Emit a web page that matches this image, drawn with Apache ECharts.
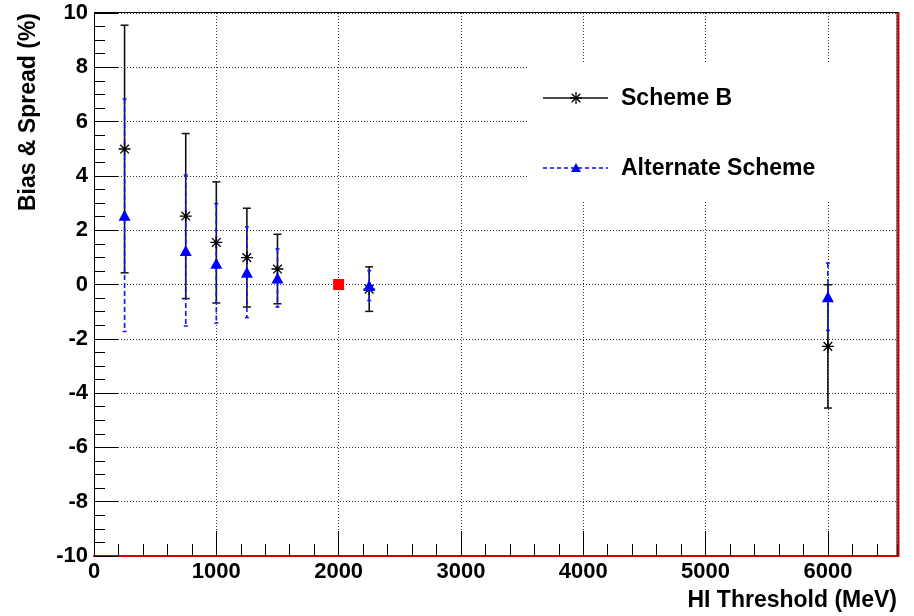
<!DOCTYPE html>
<html>
<head>
<meta charset="utf-8">
<script src="https://cdn.jsdelivr.net/npm/echarts@6/dist/echarts.min.js"></script>
<style>
html, body { margin: 0; padding: 0; background: #fff; }
#chart { width: 914px; height: 616px; }
</style>
</head>
<body>
<div id="chart"></div>
<script>
// HI threshold scan: bias (marker) and spread (error bar half-width), in percent
const thresholds = [250, 750, 1000, 1250, 1500, 2250, 6000];
const schemeB = [4.99, 2.52, 1.55, 0.99, 0.57, -0.17, -2.28];
const schemeBSpread = [4.56, 3.04, 2.23, 1.82, 1.28, 0.82, 2.27];
const altScheme = [2.55, 1.25, 0.78, 0.45, 0.24, -0.04, -0.45];
const altSpread = [4.28, 2.78, 2.2, 1.67, 1.07, 0.55, 1.24];
const referencePoint = [2000, 0];

const xTicks = [0, 1000, 2000, 3000, 4000, 5000, 6000];
const yTicks = [-10, -8, -6, -4, -2, 0, 2, 4, 6, 8, 10];

const FONT = '"Liberation Sans", Arial, Helvetica, sans-serif';
const STAR = 'path://M0,-1L0,1M-1,0L1,0M-0.72,-0.72L0.72,0.72M-0.72,0.72L0.72,-0.72';

function errorBars(color, dash, capHalf) {
  return function (params, api) {
    const x = api.value(0), y = api.value(1), e = api.value(2);
    const hi = api.coord([x, y + e]);
    const lo = api.coord([x, y - e]);
    const capStyle = { stroke: color, lineWidth: 1.5 };
    const barStyle = { stroke: color, lineWidth: 1.6 };
    if (dash) barStyle.lineDash = dash;
    return {
      type: 'group',
      children: [
        { type: 'line', shape: { x1: hi[0], y1: hi[1], x2: lo[0], y2: lo[1] }, style: barStyle },
        { type: 'line', shape: { x1: hi[0] - capHalf, y1: hi[1], x2: hi[0] + capHalf, y2: hi[1] }, style: capStyle },
        { type: 'line', shape: { x1: lo[0] - capHalf, y1: lo[1], x2: lo[0] + capHalf, y2: lo[1] }, style: capStyle }
      ]
    };
  };
}

function starLines(cx, cy, r) {
  const d = r * 0.72;
  const segs = [[0, -r, 0, r], [-r, 0, r, 0], [-d, -d, d, d], [-d, d, d, -d]];
  return segs.map(s => ({
    type: 'line', z: 9,
    shape: { x1: cx + s[0], y1: cy + s[1], x2: cx + s[2], y2: cy + s[3] },
    style: { stroke: '#000', lineWidth: 1.3 }
  }));
}

const chart = echarts.init(document.getElementById('chart'), null, { renderer: 'canvas' });

const gridLine = { show: true, lineStyle: { color: '#333', width: 1, type: [1, 2] } };

chart.setOption({
  animation: false,
  backgroundColor: '#fff',
  grid: { left: 94, right: 17, top: 13, bottom: 60, show: false },
  xAxis: [
    {
      type: 'value', position: 'bottom', min: 0, max: 6565, interval: 200,
      axisLine: { show: false, onZero: false },
      axisTick: { show: true, inside: true, length: 12, lineStyle: { color: '#000', width: 1 } },
      axisLabel: { show: false },
      splitLine: { show: false }
    },
    {
      type: 'value', position: 'bottom', min: 0, max: 6565, interval: 1000,
      axisLine: { show: true, onZero: false, lineStyle: { color: '#d40000', width: 2 } },
      axisTick: { show: true, inside: true, length: 25, lineStyle: { color: '#000', width: 1 } },
      axisLabel: {
        show: true, margin: 5, color: '#000', fontFamily: FONT, fontWeight: 'bold', fontSize: 22,
        showMaxLabel: false,
        formatter: v => (xTicks.indexOf(v) >= 0 ? String(v) : '')
      },
      splitLine: gridLine
    }
  ],
  yAxis: {
    type: 'value', min: -10, max: 10, interval: 2,
    axisLine: { show: true, onZero: false, lineStyle: { color: '#000', width: 1 } },
    axisTick: { show: true, inside: true, length: 24, lineStyle: { color: '#000', width: 1 } },
    minorTick: { show: true, splitNumber: 4, length: 11, lineStyle: { color: '#000', width: 1 } },
    axisLabel: {
      show: true, margin: 6, color: '#000', fontFamily: FONT, fontWeight: 'bold', fontSize: 22,
      formatter: v => (yTicks.indexOf(v) >= 0 ? String(v) : '')
    },
    splitLine: gridLine
  },
  series: [
    {
      type: 'custom', name: 'Scheme B bars', z: 3,
      renderItem: errorBars('#111', null, 4),
      encode: { x: 0, y: 1 },
      data: thresholds.map((t, i) => [t, schemeB[i], schemeBSpread[i]])
    },
    {
      type: 'custom', name: 'Alternate bars', z: 4,
      renderItem: errorBars('#1010ff', [5, 3], 2),
      encode: { x: 0, y: 1 },
      data: thresholds.map((t, i) => [t, altScheme[i], altSpread[i]])
    },
    {
      type: 'scatter', name: 'Scheme B', z: 5,
      symbol: STAR, symbolSize: 12,
      itemStyle: { color: 'rgba(0,0,0,0)', borderColor: '#000', borderWidth: 1.3, opacity: 1 },
      data: thresholds.map((t, i) => [t, schemeB[i]])
    },
    {
      type: 'scatter', name: 'Alternate Scheme', z: 6,
      symbol: 'triangle', symbolSize: [12, 11],
      itemStyle: { color: '#0000ff', opacity: 1 },
      data: thresholds.map((t, i) => [t, altScheme[i]])
    },
    {
      type: 'scatter', name: 'Reference', z: 7,
      symbol: 'rect', symbolSize: 11,
      itemStyle: { color: '#ff0000', opacity: 1 },
      data: [referencePoint]
    }
  ],
  graphic: [
    // frame: top and right edges
    { type: 'line', z: 8, shape: { x1: 94, y1: 12.5, x2: 898, y2: 12.5 }, style: { stroke: '#000', lineWidth: 1 } },
    { type: 'line', z: 8, shape: { x1: 897, y1: 12.5, x2: 897, y2: 556 }, style: { stroke: '#000', lineWidth: 1 } },
    { type: 'line', z: 8, shape: { x1: 898.5, y1: 12, x2: 898.5, y2: 557 }, style: { stroke: '#d40000', lineWidth: 2 } },
    // legend box
    { type: 'rect', z: 1, shape: { x: 528, y: 62, width: 368, height: 140 }, style: { fill: '#fff' } },
    { type: 'line', z: 9, shape: { x1: 543, y1: 98, x2: 608, y2: 98 }, style: { stroke: '#111', lineWidth: 1.5 } }
  ].concat(starLines(576, 98, 6)).concat([
    { type: 'text', z: 9, x: 621, y: 99, style: { text: 'Scheme B', fontFamily: FONT, fontWeight: 'bold', fontSize: 23,
      fill: '#000', align: 'left', verticalAlign: 'middle' } },
    { type: 'line', z: 9, shape: { x1: 543, y1: 168, x2: 608, y2: 168 }, style: { stroke: '#0000ff', lineWidth: 1.5, lineDash: [4, 3] } },
    { type: 'polygon', z: 9, shape: { points: [[576, 163], [581, 172], [571, 172]] }, style: { fill: '#0000ff' } },
    { type: 'text', z: 9, x: 621, y: 169, style: { text: 'Alternate Scheme', fontFamily: FONT, fontWeight: 'bold', fontSize: 23,
      fill: '#000', align: 'left', verticalAlign: 'middle' } },
    // axis titles
    { type: 'text', z: 9, x: 29, y: 13, rotation: Math.PI / 2, style: { text: 'Bias & Spread (%)', fontFamily: FONT,
      fontWeight: 'bold', fontSize: 23, fill: '#000', align: 'right', verticalAlign: 'middle' } },
    { type: 'text', z: 9, x: 897, y: 601, style: { text: 'HI Threshold (MeV)', fontFamily: FONT,
      fontWeight: 'bold', fontSize: 23, fill: '#000', align: 'right', verticalAlign: 'middle' } }
  ])
});
</script>
</body>
</html>
